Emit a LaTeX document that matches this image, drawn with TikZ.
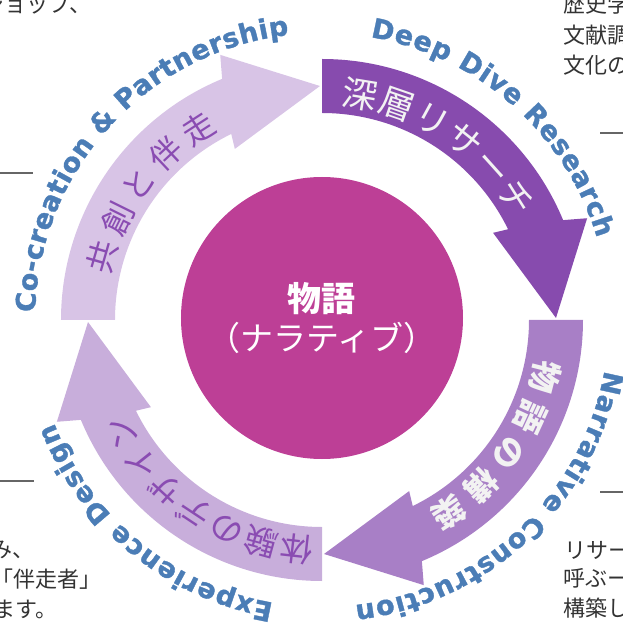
\documentclass[tikz,border=0pt]{standalone}
\usepackage{fontspec}
\usetikzlibrary{decorations.text}
\newfontfamily\jpfont{Noto Sans CJK JP}
\newfontfamily\enfont{DejaVu Sans}[BoldFeatures={FakeBold=1.3}]
\definecolor{arA}{HTML}{874BAE}
\definecolor{arB}{HTML}{A87FC6}
\definecolor{arC}{HTML}{C8AEDB}
\definecolor{arD}{HTML}{D8C4E6}
\definecolor{corecol}{HTML}{BD3F96}
\definecolor{lblblue}{HTML}{4B7DB6}
\definecolor{purtxt}{HTML}{8A4CB2}
\definecolor{lighttxt}{HTML}{F2F2F2}
\definecolor{bodytxt}{HTML}{333333}
\definecolor{rulegray}{HTML}{666666}
\newcommand\blueF{\enfont\bfseries\fontsize{27}{27}\selectfont}
\newcommand\ringarrow[2]{%
  \fill[#2] (#1:261) arc[start angle=#1, end angle={#1-67.5}, radius=261]
    -- ({#1-69}:284) -- ({#1-89.5}:234) -- ({#1-63}:192) -- ({#1-64}:207)
    arc[start angle={#1-64}, end angle=#1, radius=207] -- cycle;}
\newcommand\arclabel[6]{%
  \path[decorate, decoration={text along path, text align={fit to path},
    text color=#1, text={|#2|#6}}] (#4:#3) arc[start angle=#4, end angle=#5, radius=#3];}
\begin{document}
\begin{tikzpicture}[x=1pt,y=1pt,
  bodytext/.style={font=\jpfont\fontsize{22}{22}\selectfont, text=bodytxt, inner sep=0pt},
  rulestyle/.style={draw=rulegray, line width=1.5pt}]
\useasboundingbox (-322,-306) rectangle (301,320);
\clip (-322,-306) rectangle (301,320);
% ring arrows
\ringarrow{90}{arA}
\ringarrow{0}{arB}
\ringarrow{-90}{arC}
\ringarrow{180}{arD}
% centre
\node[circle, fill=corecol, minimum size=282pt, inner sep=0pt, align=center,
  text=white, font=\jpfont\fontsize{33}{39}\selectfont] (core) at (0,2)
  {{\bfseries\fontsize{34}{39}\selectfont 物語}\\（ナラティブ）};
% labels on the arrows
\arclabel{lighttxt}{\jpfont\fontsize{35}{35}\selectfont}{216}{85.2}{27.6}{深層リサーチ}
\arclabel{lighttxt}{\jpfont\bfseries\fontsize{32}{32}\selectfont}{218}{-10.1}{-60.9}{物語の構築}
\arclabel{purtxt}{\jpfont\fontsize{33}{33}\selectfont}{218}{-92.0}{-155.0}{体験のデザイン}
\arclabel{purtxt}{\jpfont\fontsize{32}{32}\selectfont}{216}{168.2}{118.7}{共創と伴走}
% blue outer labels
\arclabel{lblblue}{\blueF}{287}{80.3}{16.6}{Deep Dive Research}
\arclabel{lblblue}{\blueF}{287}{-10.1}{-83.4}{Narrative Construction}
\arclabel{lblblue}{\blueF}{287}{-99.7}{-159.0}{Experience Design}
\arclabel{lblblue}{\blueF}{287}{178.5}{96.6}{Co-creation {\&} Partnership}
% surrounding text fragments
\node[bodytext, anchor=base east] (tl) at (-230,307) {ショップ、};
\node[bodytext, anchor=base west] (tr1) at (241,307) {歴史学};
\node[bodytext, anchor=base west] (tr2) at (241,276) {文献調};
\node[bodytext, anchor=base west] (tr3) at (241,246) {文化の};
\node[bodytext, anchor=base west] (bl1) at (-332,-237) {み、};
\node[bodytext, anchor=base west] (bl2) at (-331,-267) {「伴走者」};
\node[bodytext, anchor=base west] (bl3) at (-329,-297) {ます。};
\node[bodytext, anchor=base west] (br1) at (242,-238) {リサー};
\node[bodytext, anchor=base west] (br2) at (241,-266) {呼ぶー};
\node[bodytext, anchor=base west] (br3) at (241,-296) {構築し};
% short rules
\draw[rulestyle] (-322,147) -- (-289,147);
\draw[rulestyle] (-322,-161) -- (-288,-161);
\draw[rulestyle] (278,187) -- (301,187);
\draw[rulestyle] (278,-172) -- (301,-172);
\end{tikzpicture}
\end{document}
